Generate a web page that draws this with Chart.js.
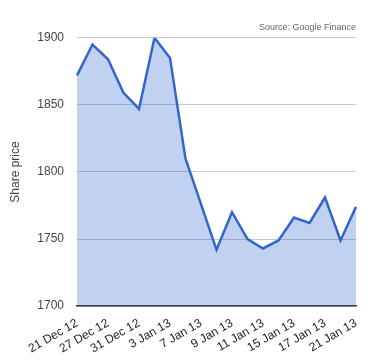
<!DOCTYPE html>
<html>
<head>
<meta charset="utf-8">
<script src="https://cdn.jsdelivr.net/npm/chart.js@4"></script>
<style>
  body { margin: 0; background: #fff; }
  .canvas-wrapper { width: 380px; height: 360px; }
</style>
</head>
<body>
<div class="canvas-wrapper"><canvas id="chart"></canvas></div>
<script>
const LINE_COLOR = "rgb(51, 102, 204)";
const FILL_COLOR = "rgba(51, 102, 204, 0.3)"; // lets the grid show through
const GRID_COLOR = "rgb(200, 200, 200)";
const TEXT_COLOR = "rgb(68, 68, 68)";

// trading days, only every other one gets a label
const dates = [
    "21 Dec 12", "24 Dec 12", "27 Dec 12", "28 Dec 12", "31 Dec 12",
    "2 Jan 13", "3 Jan 13", "4 Jan 13", "7 Jan 13", "8 Jan 13",
    "9 Jan 13", "10 Jan 13", "11 Jan 13", "14 Jan 13", "15 Jan 13",
    "16 Jan 13", "17 Jan 13", "18 Jan 13", "21 Jan 13"
];
const prices = [
    1872, 1895, 1884, 1859, 1847,
    1900, 1885, 1810, 1776, 1742,
    1770, 1750, 1743, 1749, 1766,
    1762, 1781, 1749, 1774
];
const yTicks = [1700, 1750, 1800, 1850, 1900];

const fontFamily = "'Liberation Sans', Arial, sans-serif";

new Chart(document.getElementById("chart").getContext("2d"), {
    type: "line",
    data: {
        labels: dates,
        datasets: [{
            label: "Share price",
            data: prices,
            borderColor: LINE_COLOR,
            backgroundColor: FILL_COLOR,
            borderWidth: 2.5,
            fill: "start",
            pointRadius: 0,
            tension: 0
        }]
    },
    options: {
        responsive: true,
        maintainAspectRatio: false,
        animation: false,
        layout: { padding: { left: 0, right: 24, top: 0, bottom: 2 } },
        plugins: {
            legend: { display: false },
            tooltip: { enabled: false },
            title: {
                display: true,
                text: "Source: Google Finance",
                align: "end",
                color: "rgb(102, 102, 102)",
                font: { family: fontFamily, size: 9, weight: "normal" },
                padding: { top: 22, bottom: 5 }
            }
        },
        scales: {
            x: {
                grid: { display: false },
                border: { display: true, color: "rgb(51, 51, 51)", width: 1.5 },
                ticks: {
                    autoSkip: false,
                    minRotation: 30,
                    maxRotation: 30,
                    color: "rgb(34, 34, 34)",
                    font: { family: fontFamily, size: 12 },
                    padding: 2,
                    callback: (value, index) => index % 2 === 0 ? dates[index] : ""
                }
            },
            y: {
                min: yTicks[0],
                max: yTicks[yTicks.length - 1],
                afterBuildTicks: (axis) => { axis.ticks = yTicks.map(v => ({ value: v })); },
                // fixed width, otherwise the first rotated x label widens it
                afterFit: (axis) => { axis.width = 77; },
                grid: { color: GRID_COLOR, drawTicks: false },
                border: { display: false },
                ticks: {
                    color: TEXT_COLOR,
                    font: { family: fontFamily, size: 12 },
                    padding: 13,
                    callback: (value) => String(value)
                },
                title: {
                    display: true,
                    text: "Share price",
                    color: TEXT_COLOR,
                    font: { family: fontFamily, size: 12 },
                    padding: { top: 8, bottom: 15 }
                }
            }
        }
    }
});
</script>
</body>
</html>
